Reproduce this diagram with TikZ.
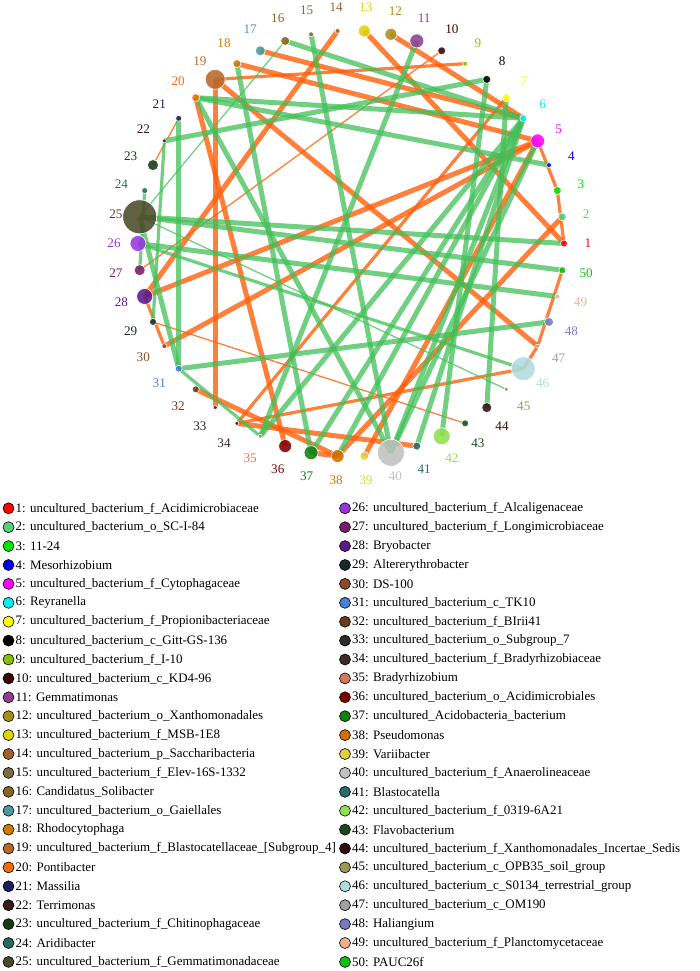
\documentclass[tikz,border=0pt]{standalone}
\usepackage{fontspec}
\setmainfont{Liberation Serif}
\usetikzlibrary{backgrounds}
\definecolor{c1}{HTML}{FF0000}\definecolor{c2}{HTML}{55CF7F}\definecolor{c3}{HTML}{00E600}
\definecolor{c4}{HTML}{0000F0}\definecolor{c5}{HTML}{FF00FF}\definecolor{c6}{HTML}{00F0F0}
\definecolor{c7}{HTML}{FFFF00}\definecolor{c8}{HTML}{000000}\definecolor{c9}{HTML}{86C000}
\definecolor{c10}{HTML}{3A0505}\definecolor{c11}{HTML}{8E3F8E}\definecolor{c12}{HTML}{A8901C}
\definecolor{c13}{HTML}{DED400}\definecolor{c14}{HTML}{A0622C}\definecolor{c15}{HTML}{7E6A40}
\definecolor{c16}{HTML}{8B6420}\definecolor{c17}{HTML}{4A9A9A}\definecolor{c18}{HTML}{D07A00}
\definecolor{c19}{HTML}{B8682A}\definecolor{c20}{HTML}{F86A08}\definecolor{c21}{HTML}{1C1C5E}
\definecolor{c22}{HTML}{3A1A1A}\definecolor{c23}{HTML}{163A16}\definecolor{c24}{HTML}{2A6A5A}
\definecolor{c25}{HTML}{4A4A28}\definecolor{c26}{HTML}{9933DD}\definecolor{c27}{HTML}{7A1A6A}
\definecolor{c28}{HTML}{5A1A8A}\definecolor{c29}{HTML}{1A2A2A}\definecolor{c30}{HTML}{8A4A2A}
\definecolor{c31}{HTML}{4A80D0}\definecolor{c32}{HTML}{6A3A1A}\definecolor{c33}{HTML}{2A2A2A}
\definecolor{c34}{HTML}{3A2A2A}\definecolor{c35}{HTML}{D07A5A}\definecolor{c36}{HTML}{800000}
\definecolor{c37}{HTML}{108010}\definecolor{c38}{HTML}{D07000}\definecolor{c39}{HTML}{E0D040}
\definecolor{c40}{HTML}{C0C0C0}\definecolor{c41}{HTML}{2A6A6A}\definecolor{c42}{HTML}{90E050}
\definecolor{c43}{HTML}{1A4A1A}\definecolor{c44}{HTML}{301010}\definecolor{c45}{HTML}{9A9A50}
\definecolor{c46}{HTML}{B0DCE0}\definecolor{c47}{HTML}{A0A0A0}\definecolor{c48}{HTML}{7A7AC0}
\definecolor{c49}{HTML}{F0B090}\definecolor{c50}{HTML}{10C010}
\definecolor{eo}{HTML}{FF5F0A}
\definecolor{eg}{HTML}{42BF58}
\begin{document}
\begin{tikzpicture}[x=1bp,y=-1bp,
  net/.style={circle,inner sep=0pt,draw=white,line width=0.6bp,fill opacity=0.88},
  lab/.style={font=\fontsize{13.2}{14}\selectfont,inner sep=0pt},
  oe/.style={draw=eo,draw opacity=0.8},
  ge/.style={draw=eg,draw opacity=0.75},
  w1/.style={line width=1.3bp},
  w2/.style={line width=3.2bp},
  w3/.style={line width=5bp},
  legdot/.style={circle,draw=black,line width=0.6bp,minimum size=11bp,inner sep=0pt},
  legtxt/.style={anchor=west,font=\fontsize{13}{14}\selectfont,inner sep=0pt}]
\useasboundingbox (0,0) rectangle (700,971);
% network nodes and labels
\foreach \i/\r in {1/3.5,2/4,3/4,4/2.5,5/7,6/3.5,7/4,8/4,9/2.5,10/4,
  11/7,12/6,13/6,14/2.5,15/2.5,16/4.5,17/5,18/4,19/10,20/4,
  21/3,22/2,23/5.5,24/3,25/17,26/8,27/5.5,28/8,29/3.5,30/2.5,
  31/3.5,32/3.5,33/2,34/2,35/2,36/6.5,37/7,38/6.5,39/4.5,40/13.5,
  41/4,42/8.5,43/3.5,44/5,45/2,46/12,47/2,48/4.5,49/2.5,50/3.5}{
  \pgfmathsetmacro\ang{(\i-1)*7.2}
  \pgfmathsetmacro\dd{2*\r}
  \node[net,fill=c\i,minimum size=\dd bp] (n\i) at ({351+213*cos(\ang)},{243.5-213*sin(\ang)}) {};
  \node[lab,text=c\i] (l\i) at ({351+237*cos(\ang)},{243.5-237*sin(\ang)}) {\i};
}
\begin{pgfonlayer}{background}
% orange edges
\foreach \a/\b/\w in {13/1/3,12/6/3,5/3/2,3/1/2,2/38/3,9/19/2,10/27/1,14/28/3,17/6/3,18/5/3,
  19/33/3,19/47/3,20/36/3,21/23/1,28/30/2,30/5/3,29/43/1,28/5/3,34/46/2,34/41/3,
  32/38/3,37/38/3,46/47/2,47/50/2,5/39/3,7/34/2}{
  \draw[oe,w\w] (n\a.center) -- (n\b.center);
}
% green edges
\foreach \a/\b/\w in {20/6/3,20/4/3,16/6/3,16/25/1,8/22/3,7/44/3,11/35/3,15/40/3,18/37/3,20/40/3,
  21/31/3,25/1/3,25/50/3,26/49/3,25/45/1,26/46/2,25/31/3,31/48/3,31/35/2,6/35/3,
  6/37/3,6/38/3,6/40/3,6/41/3,5/40/3,22/29/2,8/42/3,24/27/2}{
  \draw[ge,w\w] (n\a.center) -- (n\b.center);
}
\end{pgfonlayer}
% legend
\foreach \i/\t in {1/{uncultured\_bacterium\_f\_Acidimicrobiaceae},
  2/{uncultured\_bacterium\_o\_SC-I-84},
  3/{11-24},
  4/{Mesorhizobium},
  5/{uncultured\_bacterium\_f\_Cytophagaceae},
  6/{Reyranella},
  7/{uncultured\_bacterium\_f\_Propionibacteriaceae},
  8/{uncultured\_bacterium\_c\_Gitt-GS-136},
  9/{uncultured\_bacterium\_f\_I-10},
  10/{uncultured\_bacterium\_c\_KD4-96},
  11/{Gemmatimonas},
  12/{uncultured\_bacterium\_o\_Xanthomonadales},
  13/{uncultured\_bacterium\_f\_MSB-1E8},
  14/{uncultured\_bacterium\_p\_Saccharibacteria},
  15/{uncultured\_bacterium\_f\_Elev-16S-1332},
  16/{Candidatus\_Solibacter},
  17/{uncultured\_bacterium\_o\_Gaiellales},
  18/{Rhodocytophaga},
  19/{uncultured\_bacterium\_f\_Blastocatellaceae\_[Subgroup\_4]},
  20/{Pontibacter},
  21/{Massilia},
  22/{Terrimonas},
  23/{uncultured\_bacterium\_f\_Chitinophagaceae},
  24/{Aridibacter},
  25/{uncultured\_bacterium\_f\_Gemmatimonadaceae},
  26/{uncultured\_bacterium\_f\_Alcaligenaceae},
  27/{uncultured\_bacterium\_f\_Longimicrobiaceae},
  28/{Bryobacter},
  29/{Altererythrobacter},
  30/{DS-100},
  31/{uncultured\_bacterium\_c\_TK10},
  32/{uncultured\_bacterium\_f\_BIrii41},
  33/{uncultured\_bacterium\_o\_Subgroup\_7},
  34/{uncultured\_bacterium\_f\_Bradyrhizobiaceae},
  35/{Bradyrhizobium},
  36/{uncultured\_bacterium\_o\_Acidimicrobiales},
  37/{uncultured\_Acidobacteria\_bacterium},
  38/{Pseudomonas},
  39/{Variibacter},
  40/{uncultured\_bacterium\_f\_Anaerolineaceae},
  41/{Blastocatella},
  42/{uncultured\_bacterium\_f\_0319-6A21},
  43/{Flavobacterium},
  44/{uncultured\_bacterium\_f\_Xanthomonadales\_Incertae\_Sedis},
  45/{uncultured\_bacterium\_c\_OPB35\_soil\_group},
  46/{uncultured\_bacterium\_c\_S0134\_terrestrial\_group},
  47/{uncultured\_bacterium\_c\_OM190},
  48/{Haliangium},
  49/{uncultured\_bacterium\_f\_Planctomycetaceae},
  50/{PAUC26f}}{
  \pgfmathtruncatemacro\col{\i>25 ? 1 : 0}
  \pgfmathtruncatemacro\row{\i-1-25*\col}
  \node[legdot,fill=c\i] (k\i) at ({8.5+336.5*\col},{508.3+18.9*\row}) {};
  \node[legtxt] (t\i) at ({15.5+336.5*\col},{508.3+18.9*\row}) {\i: \t};
}
\end{tikzpicture}
\end{document}
